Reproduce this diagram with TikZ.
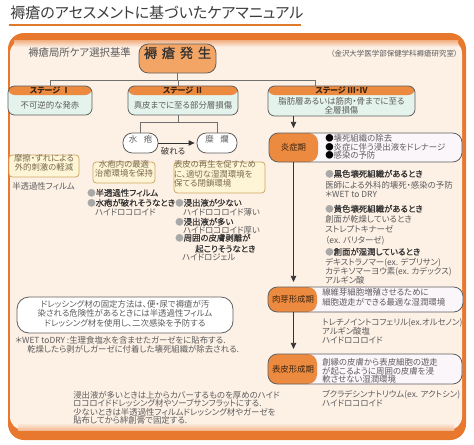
\documentclass[tikz,border=0pt]{standalone}
\usepackage{fontspec}
\setmainfont[RawFeature=+palt]{Noto Sans CJK JP}
\newfontfamily\medf[RawFeature=+palt,FakeBold=0.7]{Noto Sans CJK JP}
\usetikzlibrary{arrows.meta,fit,calc}
\definecolor{orng}{HTML}{EC8A40}
\definecolor{orngL}{HTML}{F3A565}
\definecolor{frame}{HTML}{E8782E}
\definecolor{panel}{HTML}{FDF0E5}
\definecolor{mint}{HTML}{E4F3EC}
\definecolor{lav}{HTML}{FBF6FA}
\definecolor{ylw}{HTML}{FDF5D5}
\definecolor{tanc}{HTML}{CDA869}
\definecolor{ytxt}{HTML}{7B6A50}
\definecolor{txt}{HTML}{5C5C5C}
\definecolor{dtxt}{HTML}{333333}
\definecolor{edge}{HTML}{5F5F5F}
\definecolor{lin}{HTML}{707070}
\definecolor{bul}{HTML}{A8A8A8}
\definecolor{ttl}{HTML}{3C3C3C}
\definecolor{uline}{HTML}{E07A2C}
\definecolor{hdrtxt}{HTML}{3A2410}
\newcommand\fsz{\fontsize{6.3}{7}\selectfont}
\newcommand\bl{\textcolor{bul}{●}}
\tikzset{
  t/.style={inner sep=0, anchor=base west, text=txt, font=\fsz},
  tb/.style={t, text=dtxt, font=\fsz\medf},
  conn/.style={draw=lin, line width=0.6pt},
  arr/.style={draw=dtxt, line width=0.6pt, -{Triangle[length=4.5pt,width=4pt]}},
  stage/.style={draw=edge, line width=0.6pt, fill=mint, rounded corners=5pt, inner sep=0,
    path picture={\fill[orng] (path picture bounding box.north west) rectangle ([yshift=-6.75pt]path picture bounding box.north east);}},
  phase/.style={draw=edge, line width=0.6pt, fill=lav, rounded corners=7pt, inner sep=0,
    path picture={\fill[orng] (path picture bounding box.south west) rectangle ([xshift=36.75pt]path picture bounding box.north west);}},
  oval/.style={draw=edge, fill=white, rounded corners=7pt, inner sep=0, line width=0.6pt, font=\fsz, text=txt},
  ybox/.style={draw=tanc, fill=ylw, rounded corners=2.5pt, inner sep=0, line width=0.6pt, text=ytxt, font=\fontsize{6.3}{6.9}\selectfont},
  hdr/.style={inner sep=0, anchor=center, font=\fontsize{6}{7}\selectfont\bfseries, text=hdrtxt},
  sbody/.style={inner sep=0, anchor=center, font=\fsz, text=txt},
  plab/.style={inner sep=0, anchor=center, font=\fsz, text=hdrtxt},
}
\begin{document}
\begin{tikzpicture}[x=0.75pt,y=-0.75pt]
\useasboundingbox (0,0) rectangle (474,444);
\fill[white] (0,0) rectangle (474,444);
% title
\node[anchor=base west, inner sep=0, font=\fontsize{11.3}{13}\selectfont, text=ttl] (title) at (10,18.5) {褥瘡のアセスメントに基づいたケアマニュアル};
\draw[draw=uline, line width=1.5pt] (9,24.5) -- (301,24.5);
% panel
\fill[frame, rounded corners=12pt] (8,33) rectangle (466,440);
\fill[panel, rounded corners=10pt] (10,40) rectangle (462,430);
\shade[top color=frame!55!panel, bottom color=panel] (14,40) rectangle (458,47);
\shade[top color=panel, bottom color=frame!45!panel] (18,423) rectangle (454,430);
\node[anchor=base west, inner sep=0, font=\fontsize{7.8}{9}\selectfont, text=txt] (sub) at (28,56) {褥瘡局所ケア選択基準};
\node[anchor=base east, inner sep=0, font=\fontsize{5.6}{7}\selectfont, text=txt] (lab) at (458,56) {（金沢大学医学部保健学科褥瘡研究室）};
% top node
\node[fit={(139,44)(216,73)}, inner sep=0, draw=edge, fill=orngL, rounded corners=7pt, line width=0.6pt, font=\fontsize{10}{12}\selectfont\medf, text=dtxt] (hassei) {褥\hspace{3.5pt}瘡\hspace{3.5pt}発\hspace{3.5pt}生};
% stages
\node[stage, fit={(8,86)(92,115)}] (s1) {};
\node[hdr] (s1h) at (50,90.5) {ステージ Ⅰ};
\node[sbody] (s1b) at (50,105.5) {不可逆的な発赤};
\node[stage, fit={(128,86)(238,115)}] (s2) {};
\node[hdr] (s2h) at (183,90.5) {ステージ Ⅱ};
\node[sbody] (s2b) at (183,105.5) {真皮までに至る部分層損傷};
\node[stage, fit={(268,86)(415,116)}] (s3) {};
\node[hdr] (s3h) at (341.5,90.5) {ステージ Ⅲ・Ⅳ};
\node[sbody, align=center, font=\fontsize{6.3}{6.6}\selectfont] (s3b) at (341.5,106) {脂肪層あるいは筋肉・骨までに至る\\全層損傷};
\coordinate (bar) at (178,80);
\coordinate (s3in) at (315,86);
\draw[conn] (hassei.south) -- (hassei.south |- bar);
\draw[conn] (s1.north) -- (s1.north |- bar) -- (s3in |- bar) -- (s3in);
\draw[conn] (bar) -- (bar |- s2.north);
% blisters
\node[oval, fit={(123,133)(158,153)}] (suihou) {水\hspace{5pt}疱};
\node[oval, fit={(197,133)(237,153)}] (biran) {糜\hspace{5pt}爛};
\coordinate (bar2) at (178,122);
\draw[conn] (bar2 |- s2.south) -- (bar2);
\draw[conn] (suihou.north) -- (suihou.north |- bar2) -- (biran.north |- bar2) -- (biran.north);
\draw[arr, shorten >=1.5pt] (suihou.east) -- (biran.west);
\node[inner sep=0, font=\fsz, text=dtxt] (yab) at (173,151) {破れる};
% yellow boxes
\node[ybox, fit={(9,155)(79,177)}, align=center] (y1) {摩擦・ずれによる\\外的刺激の軽減};
\node[t] (l1) at (12,189) {半透過性フィルム};
\node[ybox, fit={(93,162)(155,183)}, align=center] (y2) {水疱内の最適\\治癒環境を保持};
\node[ybox, fit={(174,162)(265,193)}, align=left] (y3) {表皮の再生を促すため\\に、適切な湿潤環境を\\保てる閉鎖環境};
\node[tb] (m1) at (87,196) {\bl 半透過性フィルム};
\node[tb] (m2) at (87,206) {\bl 水疱が破れそうなとき};
\node[t] (m3) at (95,215) {ハイドロコロイド};
\node[tb] (r1) at (175,206) {\bl 浸出液が少ない};
\node[t] (r2) at (183,215) {ハイドロコロイド薄い};
\node[tb] (r3) at (175,225) {\bl 浸出液が多い};
\node[t] (r4) at (183,233) {ハイドロコロイド厚い};
\node[tb] (r5) at (175,241) {\bl 周囲の皮膚剥離が};
\node[tb] (r6) at (195,252) {起こりそうなとき};
\node[t] (r7) at (182,260) {ハイドロジェル};
% note box
\node[draw=edge, fill=white, rounded corners=9pt, inner sep=0, line width=0.6pt, fit={(17,297)(233,333)}] (note) {};
\node[t, anchor=base] (n1) at (125,307) {ドレッシング材の固定方法は、便・尿で褥瘡が汚};
\node[t, anchor=base] (n2) at (125,316) {染される危険性があるときには半透過性フィルム};
\node[t, anchor=base] (n3) at (125,326) {ドレッシング材を使用し、二次感染を予防する};
\node[t] (f1) at (15,343) {＊WET toDRY :生理食塩水を含ませたガーゼをに貼布する.};
\node[t] (f2) at (27,352) {乾燥したら剥がしガーゼに付着した壊死組織が除去される.};
\node[t] (b1) at (73,398) {浸出液が多いときは上からカバーするものを厚めのハイド};
\node[t] (b2) at (73,406) {ロコロイドドレッシング材やソーブサンフラットにする.};
\node[t] (b3) at (73,415) {少ないときは半透過性フィルムドレッシング材やガーゼを};
\node[t] (b4) at (73,423) {貼布してから絆創膏で固定する.};
% phases
\node[phase, fit={(269,133)(462,162)}] (ensho) {};
\node[plab] (enL) at (293.5,147.5) {炎症期};
\node[t] (e1) at (325,141) {\textcolor{black}{●}壊死組織の除去};
\node[t] (e2) at (325,150) {\textcolor{black}{●}炎症に伴う浸出液をドレナージ};
\node[t] (e3) at (325,158) {\textcolor{black}{●}感染の予防};
\node[tb] (c1) at (325,177) {\bl 黒色壊死組織があるとき};
\node[t] (c2) at (325,188) {医師による外科的壊死・感染の予防};
\node[t] (c3) at (325,197) {＊WET to DRY};
\node[tb] (c4) at (325,212) {\bl 黄色壊死組織があるとき};
\node[t] (c5) at (325,222) {創面が乾燥しているとき};
\node[t] (c6) at (325,232) {ストレプトキナーゼ};
\node[t] (c7) at (325,243) {（ex. バリターゼ)};
\node[tb] (c8) at (325,255) {\bl 創面が湿潤しているとき};
\node[t] (c9) at (325,265) {デキストラノマー(ex. デブリサン)};
\node[t] (c10) at (325,274) {カテキソマーヨウ素(ex. カデックス)};
\node[t] (c11) at (325,283) {アルギン酸};
\node[phase, fit={(268,287)(463,312)}] (nikuga) {};
\node[plab] (nkL) at (293,299.5) {肉芽形成期};
\node[t] (k1) at (322,295) {線維芽細胞増殖させるために};
\node[t] (k2) at (322,305) {細胞遊走ができる最適な湿潤環境};
\node[t] (k3) at (322,325) {トレチノイントコフェリル(ex.オルセノン)};
\node[t] (k4) at (322,334) {アルギン酸塩};
\node[t] (k5) at (322,343) {ハイドロコロイド};
\node[phase, fit={(268,354)(462,384)}] (hyohi) {};
\node[plab] (hyL) at (293,369) {表皮形成期};
\node[t] (h1) at (322,365) {創縁の皮膚から表皮細胞の遊走};
\node[t] (h2) at (322,374) {が起こるように周囲の皮膚を浸};
\node[t] (h3) at (322,382) {軟させない湿潤環境};
\node[t] (h4) at (322,397) {ブクラデシンナトリウム(ex. アクトシン)};
\node[t] (h5) at (322,406) {ハイドロコロイド};
% arrows
\draw[arr, shorten >=3.5pt] (enL |- s3.south) -- (enL |- ensho.north);
\draw[arr, shorten >=3.5pt] (enL |- ensho.south) -- (enL |- nikuga.north);
\draw[arr, shorten >=3.5pt] (enL |- nikuga.south) -- (enL |- hyohi.north);
\end{tikzpicture}
\end{document}
